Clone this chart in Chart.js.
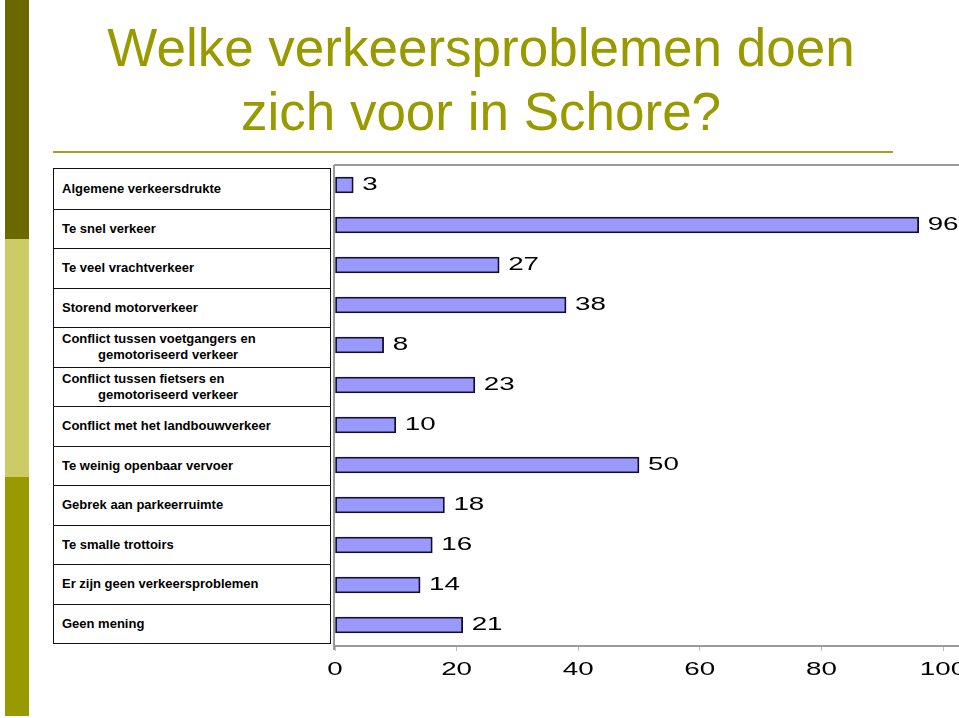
<!DOCTYPE html>
<html>
<head>
<meta charset="utf-8">
<title>Welke verkeersproblemen doen zich voor in Schore?</title>
<script src="https://cdn.jsdelivr.net/npm/chart.js@4/dist/chart.umd.min.js"></script>
<style>
  html, body { margin: 0; padding: 0; background: #fff; overflow: hidden; }
  body { width: 959px; height: 718px; position: relative; font-family: "Liberation Sans", Arial, sans-serif; }
  .side { position: absolute; left: 5px; width: 24px; }
  #title { position: absolute; left: 0; top: 16px; width: 962px; text-align: center;
           font-size: 53px; line-height: 64px; color: #999900; }
  #rule { position: absolute; left: 53px; top: 151px; width: 840px; height: 2px; background: #a3a31a; }
  #labels { position: absolute; left: 53px; top: 168px; width: 276px; height: 474px;
            border: 1.5px solid #111; }
  .row { position: absolute; left: 0; width: 100%; display: flex; flex-direction: column;
         justify-content: center; box-sizing: border-box; padding-left: 8px;
         font-weight: bold; font-size: 13px; line-height: 16px; color: #000; }
  .row.sep { border-top: 1.5px solid #111; }
  .row .l2 { padding-left: 36px; }
  canvas { position: absolute; left: 0; top: 0; }
</style>
</head>
<body>
<div class="side" style="top:0;height:239px;background:#696900"></div>
<div class="side" style="top:239px;height:238px;background:#cccc66"></div>
<div class="side" style="top:477px;height:239px;background:#999900"></div>

<div id="title">Welke verkeersproblemen doen<br>zich voor in Schore?</div>
<div id="rule"></div>
<div id="labels"></div>

<canvas id="chart" width="1000" height="718"></canvas>

<script>
// categories (two-line labels as arrays)
const categories = [
    'Algemene verkeersdrukte',
    'Te snel verkeer',
    'Te veel vrachtverkeer',
    'Storend motorverkeer',
    ['Conflict tussen voetgangers en', 'gemotoriseerd verkeer'],
    ['Conflict tussen fietsers en', 'gemotoriseerd verkeer'],
    'Conflict met het landbouwverkeer',
    'Te weinig openbaar vervoer',
    'Gebrek aan parkeerruimte',
    'Te smalle trottoirs',
    'Er zijn geen verkeersproblemen',
    'Geen mening'
];
const values = [3, 96, 27, 38, 8, 23, 10, 50, 18, 16, 14, 21];
const xTicks = [0, 20, 40, 60, 80, 100];

// Label table on the left
const box = document.getElementById('labels');
const rowH = 474 / categories.length;
categories.forEach((c, i) => {
    const row = document.createElement('div');
    row.className = 'row' + (i > 0 ? ' sep' : '');
    row.style.top = (i * rowH) + 'px';
    row.style.height = rowH + 'px';
    const lines = Array.isArray(c) ? c : [c];
    lines.forEach((t, j) => {
        const s = document.createElement('div');
        if (j > 0) s.className = 'l2';
        s.textContent = t;
        row.appendChild(s);
    });
    box.appendChild(row);
});

const STRETCH = 1.5;
const NUM_FONT = '18.5px "Liberation Sans", Arial, sans-serif';

function wideText(ctx, text, x, y, align) {
    ctx.save();
    ctx.translate(x, y);
    ctx.scale(STRETCH, 1);
    ctx.textAlign = align;
    ctx.textBaseline = 'middle';
    ctx.fillText(text, 0, 0);
    ctx.restore();
}

// axis frame, value labels and wide tick labels
const framePlugin = {
    id: 'frame',
    beforeDatasetsDraw(chart) {
        const { ctx, chartArea: a, width } = chart;
        ctx.save();
        ctx.strokeStyle = '#9a9a9a';
        ctx.lineWidth = 2;
        ctx.beginPath();
        ctx.moveTo(a.left - 1, a.top);
        ctx.lineTo(width, a.top);
        ctx.moveTo(a.left - 1, a.top);
        ctx.lineTo(a.left - 1, a.bottom + 5);
        ctx.moveTo(a.left - 1, a.bottom + 1);
        ctx.lineTo(width, a.bottom + 1);
        ctx.stroke();
        ctx.restore();
    },
    afterDatasetsDraw(chart) {
        const { ctx } = chart;
        const meta = chart.getDatasetMeta(0);
        ctx.save();
        ctx.fillStyle = '#000';
        ctx.font = NUM_FONT;
        meta.data.forEach((bar, i) => {
            wideText(ctx, String(values[i]), bar.x + 9, bar.y, 'left');
        });
        const xs = chart.scales.x;
        xs.ticks.forEach((t, i) => {
            wideText(ctx, String(t.value), xs.getPixelForTick(i), 670, 'center');
        });
        ctx.restore();
    }
};

new Chart(document.getElementById('chart'), {
    type: 'bar',
    data: {
        labels: categories.map(c => Array.isArray(c) ? c.join(' ') : c),
        datasets: [{
            data: values,
            backgroundColor: '#9999ff',
            borderColor: '#101028',
            borderWidth: 1.8,
            borderSkipped: false,
            barThickness: 16
        }]
    },
    options: {
        indexAxis: 'y',
        responsive: false,
        animation: false,
        layout: { padding: { left: 335, right: 57, top: 165, bottom: 0 } },
        plugins: {
            legend: { display: false },
            tooltip: { enabled: false }
        },
        scales: {
            x: {
                min: xTicks[0],
                max: xTicks[xTicks.length - 1],
                afterBuildTicks: (s) => { s.ticks = xTicks.map(v => ({ value: v })); },
                ticks: { display: false },
                grid: { drawOnChartArea: false, drawTicks: true, tickLength: 6, color: '#bbbbbb', lineWidth: 1 },
                border: { display: false },
                afterFit: (s) => { s.height = 73; }
            },
            y: { display: false }
        }
    },
    plugins: [framePlugin]
});
</script>
</body>
</html>
